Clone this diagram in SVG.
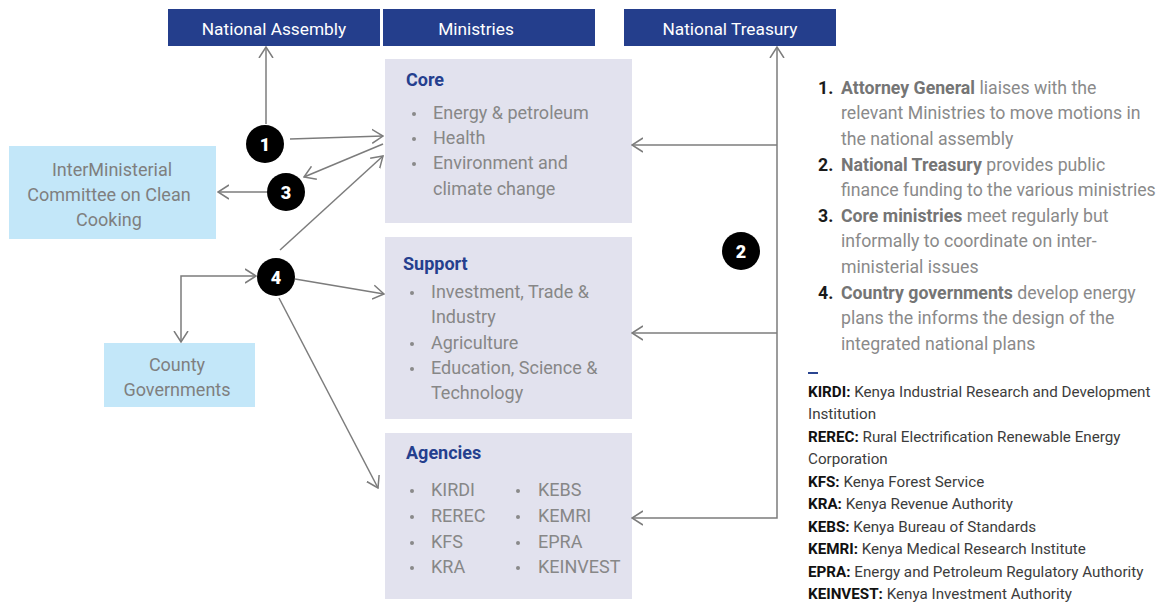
<svg xmlns="http://www.w3.org/2000/svg" width="1166" height="608" viewBox="0 0 1166 608">
<style>
.hdr{fill:#243e8c}
.hdrt{font-family:Roboto,"Liberation Sans",sans-serif;font-size:17.3px;fill:#ffffff;text-anchor:middle}
.box{fill:#e2e2ee}
.lb{fill:#c3e7f9}
.lbt{font-family:Roboto,"Liberation Sans",sans-serif;font-size:18px;fill:#7f7f7f;text-anchor:middle}
.ttl{font-family:Roboto,"Liberation Sans",sans-serif;font-size:18px;font-weight:bold;fill:#253f8e}
.it{font-family:Roboto,"Liberation Sans",sans-serif;font-size:18px;fill:#878787}
.bul{fill:#8a8a8a}
.cir{fill:#000000}
.num{font-family:Roboto,"Liberation Sans",sans-serif;font-size:18px;font-weight:900;fill:#ffffff;text-anchor:middle}
.con{fill:none;stroke:#7c7c7c;stroke-width:1.5}
.lst{font-family:Roboto,"Liberation Sans",sans-serif;font-size:17.7px;fill:#8a8a8a}
.lst .n{font-weight:bold;fill:#1a1a1a}
.lst .b{font-weight:bold;fill:#757575}
.ab{font-family:Roboto,"Liberation Sans",sans-serif;font-size:15.2px;fill:#3c3c3c}
.ab .k{font-weight:bold;fill:#111111}
</style>
<defs>
<marker id="ah" viewBox="0 -8 12 16" refX="11" refY="0" markerWidth="12" markerHeight="16" markerUnits="userSpaceOnUse" orient="auto-start-reverse">
<path d="M0,-7 L11,0 L0,7" fill="none" stroke="#7c7c7c" stroke-width="1.5"/>
</marker>
</defs>

<g id="national-assembly">
<rect class="hdr" x="168" y="9" width="212" height="37"/>
<text class="hdrt" x="274" y="35">National Assembly</text>
</g>
<g id="ministries">
<rect class="hdr" x="383" y="9" width="212" height="37"/>
<text class="hdrt" x="476" y="35">Ministries</text>
</g>
<g id="national-treasury">
<rect class="hdr" x="624" y="9" width="212" height="37"/>
<text class="hdrt" x="730" y="35">National Treasury</text>
</g>

<g id="core">
<rect class="box" x="385" y="59" width="247" height="164"/>
<text class="ttl" x="406" y="86">Core</text>
<circle class="bul" cx="414" cy="114" r="2"/>
<circle class="bul" cx="414" cy="139" r="2"/>
<circle class="bul" cx="414" cy="164" r="2"/>
<text class="it" x="433" y="119">Energy &amp; petroleum</text>
<text class="it" x="433" y="144">Health</text>
<text class="it" x="433" y="169">Environment and</text>
<text class="it" x="433" y="195">climate change</text>
</g>

<g id="support">
<rect class="box" x="385" y="237" width="247" height="182"/>
<text class="ttl" x="403" y="270">Support</text>
<circle class="bul" cx="412" cy="293" r="2"/>
<circle class="bul" cx="412" cy="344" r="2"/>
<circle class="bul" cx="412" cy="369" r="2"/>
<text class="it" x="431" y="298">Investment, Trade &amp;</text>
<text class="it" x="431" y="323">Industry</text>
<text class="it" x="431" y="349">Agriculture</text>
<text class="it" x="431" y="374">Education, Science &amp;</text>
<text class="it" x="431" y="399">Technology</text>
</g>

<g id="agencies">
<rect class="box" x="385" y="433" width="247" height="166"/>
<text class="ttl" x="406" y="459">Agencies</text>
<circle class="bul" cx="412" cy="491" r="2"/>
<circle class="bul" cx="412" cy="517" r="2"/>
<circle class="bul" cx="412" cy="543" r="2"/>
<circle class="bul" cx="412" cy="568" r="2"/>
<text class="it" x="431" y="496">KIRDI</text>
<text class="it" x="431" y="522">REREC</text>
<text class="it" x="431" y="548">KFS</text>
<text class="it" x="431" y="573">KRA</text>
<circle class="bul" cx="518" cy="491" r="2"/>
<circle class="bul" cx="518" cy="517" r="2"/>
<circle class="bul" cx="518" cy="543" r="2"/>
<circle class="bul" cx="518" cy="568" r="2"/>
<text class="it" x="538" y="496">KEBS</text>
<text class="it" x="538" y="522">KEMRI</text>
<text class="it" x="538" y="548">EPRA</text>
<text class="it" x="538" y="573">KEINVEST</text>
</g>

<g id="interministerial-committee">
<rect class="lb" x="9" y="146" width="207" height="93"/>
<text class="lbt" x="112" y="176">InterMinisterial</text>
<text class="lbt" x="109" y="201">Committee on Clean</text>
<text class="lbt" x="109" y="226">Cooking</text>
</g>

<g id="county-governments">
<rect class="lb" x="104" y="343" width="151" height="64"/>
<text class="lbt" x="177" y="371">County</text>
<text class="lbt" x="177" y="396">Governments</text>
</g>

<g id="connectors">
<line class="con" x1="266" y1="124" x2="266" y2="47" marker-end="url(#ah)"/>
<line class="con" x1="290" y1="139" x2="383" y2="136" marker-end="url(#ah)"/>
<line class="con" x1="383" y1="144" x2="304" y2="177" marker-end="url(#ah)"/>
<line class="con" x1="267" y1="192" x2="218" y2="192" marker-end="url(#ah)"/>
<line class="con" x1="280" y1="250" x2="383" y2="156" marker-end="url(#ah)"/>
<line class="con" x1="295" y1="279" x2="384" y2="294" marker-end="url(#ah)"/>
<line class="con" x1="279" y1="298" x2="378" y2="488" marker-end="url(#ah)"/>
<polyline class="con" points="256,276 181,276 181,342" marker-start="url(#ah)" marker-end="url(#ah)"/>
<polyline class="con" points="632,518 777,518 777,47" marker-start="url(#ah)" marker-end="url(#ah)"/>
<line class="con" x1="777" y1="145" x2="632" y2="145" marker-end="url(#ah)"/>
<line class="con" x1="777" y1="333" x2="632" y2="333" marker-end="url(#ah)"/>
</g>

<g id="badge-1">
<circle class="cir" cx="265" cy="144" r="19"/>
<text class="num" x="265" y="151">1</text>
</g>
<g id="badge-2">
<circle class="cir" cx="741" cy="251" r="19"/>
<text class="num" x="741" y="258">2</text>
</g>
<g id="badge-3">
<circle class="cir" cx="286" cy="192" r="19"/>
<text class="num" x="286" y="199">3</text>
</g>
<g id="badge-4">
<circle class="cir" cx="276" cy="277" r="19"/>
<text class="num" x="276" y="284">4</text>
</g>

<g id="notes">
<text class="lst" x="818" y="94"><tspan class="n">1.</tspan><tspan x="841" class="b">Attorney General</tspan> liaises with the</text>
<text class="lst" x="841" y="119">relevant Ministries to move motions in</text>
<text class="lst" x="841" y="145">the national assembly</text>
<text class="lst" x="818" y="171"><tspan class="n">2.</tspan><tspan x="841" class="b">National Treasury</tspan> provides public</text>
<text class="lst" x="841" y="196">finance funding to the various ministries</text>
<text class="lst" x="818" y="222"><tspan class="n">3.</tspan><tspan x="841" class="b">Core ministries</tspan> meet regularly but</text>
<text class="lst" x="841" y="247">informally to coordinate on inter-</text>
<text class="lst" x="841" y="273">ministerial issues</text>
<text class="lst" x="818" y="299"><tspan class="n">4.</tspan><tspan x="841" class="b">Country governments</tspan> develop energy</text>
<text class="lst" x="841" y="324">plans the informs the design of the</text>
<text class="lst" x="841" y="350">integrated national plans</text>
</g>

<g id="abbreviations">
<rect x="808" y="372" width="10" height="2" fill="#2a4590"/>
<text class="ab" x="808" y="397"><tspan class="k">KIRDI:</tspan> Kenya Industrial Research and Development</text>
<text class="ab" x="808" y="419">Institution</text>
<text class="ab" x="808" y="442"><tspan class="k">REREC:</tspan> Rural Electrification Renewable Energy</text>
<text class="ab" x="808" y="464">Corporation</text>
<text class="ab" x="808" y="487"><tspan class="k">KFS:</tspan> Kenya Forest Service</text>
<text class="ab" x="808" y="509"><tspan class="k">KRA:</tspan> Kenya Revenue Authority</text>
<text class="ab" x="808" y="532"><tspan class="k">KEBS:</tspan> Kenya Bureau of Standards</text>
<text class="ab" x="808" y="554"><tspan class="k">KEMRI:</tspan> Kenya Medical Research Institute</text>
<text class="ab" x="808" y="577"><tspan class="k">EPRA:</tspan> Energy and Petroleum Regulatory Authority</text>
<text class="ab" x="808" y="599"><tspan class="k">KEINVEST:</tspan> Kenya Investment Authority</text>
</g>
</svg>
